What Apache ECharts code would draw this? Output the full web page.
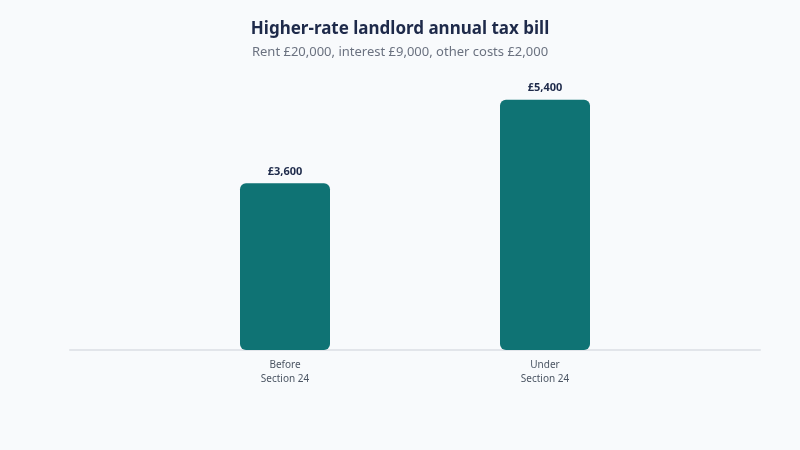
<!DOCTYPE html>
<html>
<head>
<meta charset="utf-8">
<script src="https://cdn.jsdelivr.net/npm/echarts@6/dist/echarts.min.js"></script>
<style>
  html, body { margin: 0; padding: 0; background: #f8fafc; }
  #chart { width: 800px; height: 450px; }
</style>
</head>
<body>
<div id="chart"></div>
<script>
var categories = ['Before\nSection 24', 'Under\nSection 24'];
var taxBill = [3600, 5400];

var myChart = echarts.init(document.getElementById('chart'));
var option = {
  backgroundColor: '#f8fafc',
  textStyle: { fontFamily: 'Noto Sans' },
  title: {
    text: 'Higher-rate landlord annual tax bill',
    subtext: 'Rent £20,000, interest £9,000, other costs £2,000',
    left: 'center',
    top: 16,
    itemGap: 8,
    textStyle: { fontSize: 17, fontWeight: 'bold', color: '#1e2a4a' },
    subtextStyle: { fontSize: 13, color: '#6b7280' }
  },
  grid: [
    { left: 70, right: 40, top: 72, bottom: 100 },
    { left: 155, right: 125, top: 72, bottom: 100 }
  ],
  xAxis: [
    {
      gridIndex: 0, type: 'category', data: [],
      axisLine: { show: true, lineStyle: { color: '#e2e5ea', width: 2 } },
      axisTick: { show: false }, axisLabel: { show: false }
    },
    {
      gridIndex: 1, type: 'category', data: categories,
      axisLine: { show: false }, axisTick: { show: false },
      axisLabel: { color: '#4b5563', fontSize: 10, lineHeight: 14, margin: 8 }
    }
  ],
  yAxis: [
    { gridIndex: 0, type: 'value', min: 0, max: 6000, show: false },
    { gridIndex: 1, type: 'value', min: 0, max: 6000, show: false }
  ],
  series: [
    {
      type: 'bar',
      xAxisIndex: 1,
      yAxisIndex: 1,
      data: taxBill,
      barWidth: 90,
      itemStyle: { color: '#0f7374', borderRadius: 6 },
      label: {
        show: true,
        position: 'top',
        distance: 6,
        fontSize: 11,
        fontWeight: 'bold',
        color: '#1e2a4a',
        formatter: function (p) {
          return '£' + p.value.toLocaleString('en-GB');
        }
      }
    }
  ]
};
myChart.setOption(option, true);
</script>
</body>
</html>
